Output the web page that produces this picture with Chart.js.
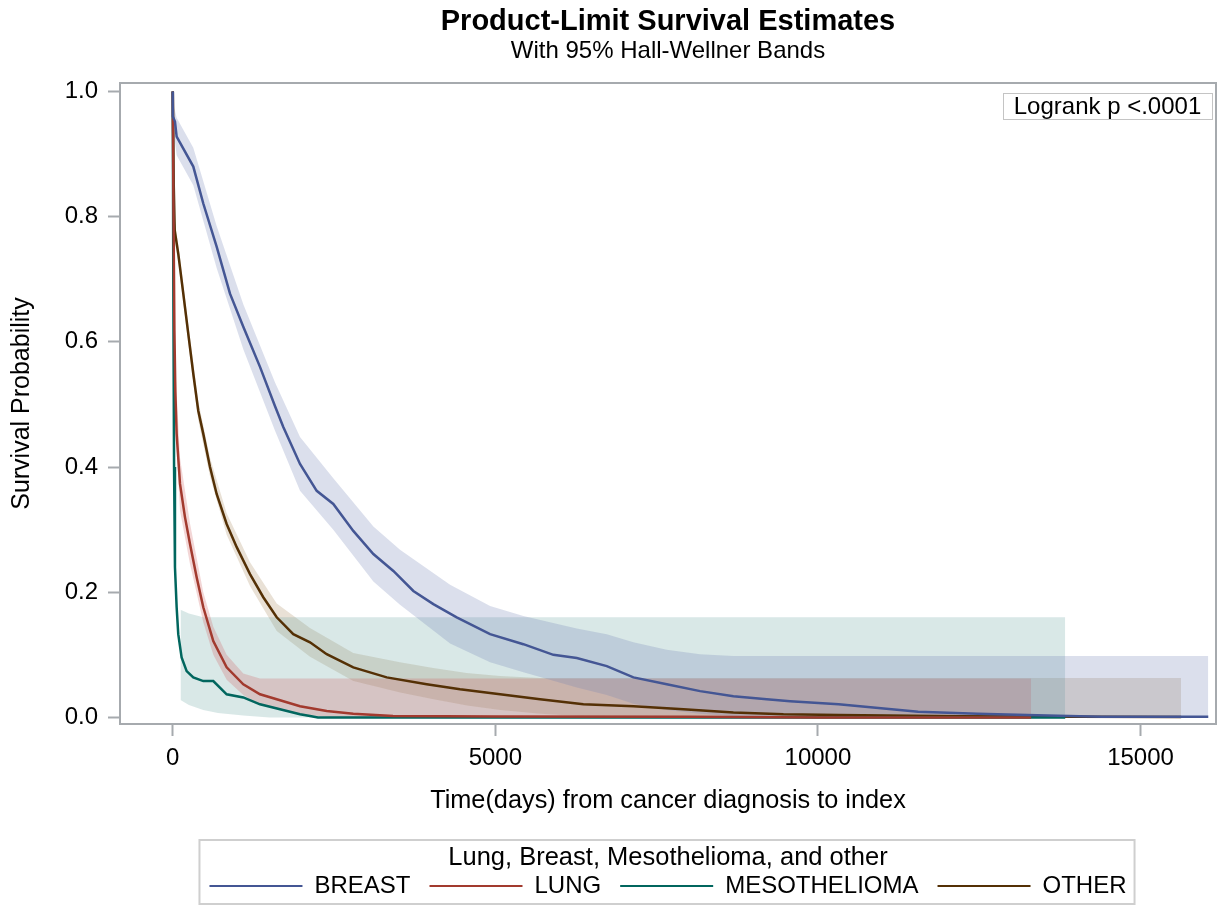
<!DOCTYPE html>
<html>
<head>
<meta charset="utf-8">
<script src="https://cdn.jsdelivr.net/npm/chart.js@4.4.1/dist/chart.umd.min.js"></script>
<style>
html,body{margin:0;padding:0;background:#fff;}
#wrap{width:1225px;height:913px;}
</style>
</head>
<body>
<div id="wrap"><canvas id="c" width="1225" height="913"></canvas></div>
<script>
// ---------- text ----------
const titleText = 'Product-Limit Survival Estimates';
const subtitleText = 'With 95% Hall-Wellner Bands';
const xTitle = 'Time(days) from cancer diagnosis to index';
const yTitle = 'Survival Probability';
const legendTitle = 'Lung, Breast, Mesothelioma, and other';
const logrankText = 'Logrank p <.0001';
const seriesNames = ['BREAST', 'LUNG', 'MESOTHELIOMA', 'OTHER'];

// ---------- tick labels ----------
const xTicks = [0, 5000, 10000, 15000];
const yTicks = [0, 0.2, 0.4, 0.6, 0.8, 1.0];

// ---------- BREAST ----------
const breastT = [0, 1, 34, 60, 318, 473, 680, 887, 1093, 1352, 1585, 1713, 1972, 2231, 2488, 2798, 3109, 3419, 3729, 4039, 4401, 4918, 5434, 5899, 6262, 6727, 7140, 7657, 8174, 8690, 9207, 9569, 10321, 11554, 12477, 13400, 14388, 16050];
const breastS = [1.0, 0.96, 0.952, 0.928, 0.880, 0.821, 0.752, 0.677, 0.624, 0.560, 0.497, 0.464, 0.405, 0.362, 0.341, 0.298, 0.261, 0.234, 0.202, 0.181, 0.160, 0.133, 0.117, 0.100, 0.095, 0.082, 0.064, 0.053, 0.042, 0.034, 0.029, 0.026, 0.021, 0.009, 0.006, 0.0035, 0.001, 0.001];
const breastBandT = [20, 60, 318, 680, 1093, 1585, 1972, 2488, 3109, 3522, 4298, 4918, 5434, 6262, 6727, 7140, 7657, 8174, 8690, 9207, 10321, 16050];
const breastUpper = [0.975, 0.958, 0.91, 0.785, 0.66, 0.535, 0.448, 0.382, 0.305, 0.268, 0.212, 0.178, 0.162, 0.142, 0.133, 0.12, 0.108, 0.101, 0.098, 0.098, 0.098, 0.098];
const breastLower = [0.93, 0.898, 0.85, 0.718, 0.588, 0.458, 0.362, 0.300, 0.217, 0.180, 0.118, 0.088, 0.072, 0.048, 0.036, 0.022, 0.012, 0.006, 0.002, 0, 0, 0];

// ---------- LUNG ----------
const lungT = [0, 10, 25, 40, 60, 112, 189, 267, 370, 473, 628, 835, 1093, 1352, 1611, 1972, 2386, 2798, 3414, 5000, 8000, 10000, 13305];
const lungS = [1.0, 0.82, 0.62, 0.52, 0.453, 0.373, 0.320, 0.277, 0.224, 0.176, 0.122, 0.080, 0.053, 0.037, 0.029, 0.018, 0.0104, 0.006, 0.0024, 0.0015, 0.001, 0, 0];
const lungBandT = [40, 112, 267, 473, 628, 835, 1093, 1352, 1972, 2500, 13305];
const lungUpper = [0.56, 0.415, 0.31, 0.20, 0.145, 0.10, 0.07, 0.062, 0.062, 0.062, 0.062];
const lungLower = [0.47, 0.33, 0.245, 0.152, 0.10, 0.06, 0.036, 0.02, 0.005, 0, 0];

// ---------- MESOTHELIOMA ----------
const mesoT = [0, 8, 20, 34, 60, 85, 137, 215, 318, 473, 628, 835, 1093, 1352, 1662, 1972, 2127, 2250, 13833];
const mesoS = [1.0, 0.7, 0.4, 0.24, 0.176, 0.133, 0.096, 0.074, 0.064, 0.058, 0.058, 0.037, 0.032, 0.021, 0.013, 0.005, 0.0024, 0, 0];
const mesoBandT = [120, 250, 473, 700, 1093, 1500, 13833];
const mesoUpper = [0.172, 0.166, 0.16, 0.16, 0.16, 0.16, 0.16];
const mesoLower = [0.028, 0.02, 0.012, 0.007, 0.003, 0, 0];

// ---------- OTHER ----------
const otherT = [0, 15, 30, 85, 163, 240, 318, 395, 473, 577, 680, 835, 991, 1197, 1403, 1611, 1868, 2127, 2386, 2798, 3316, 3936, 4453, 5073, 5693, 6364, 7140, 7915, 8690, 9465, 10321, 12169, 14000, 15630];
const otherS = [1.0, 0.85, 0.778, 0.741, 0.677, 0.613, 0.549, 0.490, 0.453, 0.400, 0.357, 0.309, 0.272, 0.229, 0.192, 0.160, 0.133, 0.120, 0.101, 0.080, 0.064, 0.053, 0.045, 0.037, 0.029, 0.021, 0.018, 0.013, 0.0077, 0.005, 0.004, 0.002, 0.001, 0.0005];
const otherBandT = [30, 85, 240, 395, 577, 835, 1197, 1611, 2127, 2798, 3522, 4039, 4556, 5073, 5693, 6364, 7140, 8000, 15630];
const otherUpper = [0.795, 0.755, 0.628, 0.505, 0.415, 0.326, 0.248, 0.182, 0.143, 0.103, 0.088, 0.079, 0.071, 0.066, 0.063, 0.063, 0.063, 0.063, 0.063];
const otherLower = [0.76, 0.727, 0.598, 0.475, 0.385, 0.292, 0.21, 0.138, 0.097, 0.058, 0.040, 0.029, 0.019, 0.012, 0.006, 0.002, 0, 0, 0];

// ---------- styles ----------
const FONT = '"Liberation Sans", Arial, Helvetica, sans-serif';
const lineColors = ['#445694', '#A23A2E', '#01665E', '#543005'];
const bandColors = ['rgba(111,126,179,0.25)', 'rgba(208,91,91,0.25)', 'rgba(102,165,160,0.25)', 'rgba(169,134,91,0.25)'];
const axisGray = '#a6aaae';

const zip = (t, v) => t.map((x, i) => ({x: x, y: v[i]}));

const lineSeries = [[breastT, breastS], [lungT, lungS], [mesoT, mesoS], [otherT, otherS]];
const bandSeries = [
  [breastBandT, breastUpper, breastLower],
  [lungBandT, lungUpper, lungLower],
  [mesoBandT, mesoUpper, mesoLower],
  [otherBandT, otherUpper, otherLower]
];

const datasets = [];
lineSeries.forEach((s, i) => {
  datasets.push({
    label: seriesNames[i], data: zip(s[0], s[1]),
    borderColor: lineColors[i], backgroundColor: lineColors[i],
    borderWidth: 2.5, pointRadius: 0, fill: false, tension: 0, order: 0
  });
});
bandSeries.forEach((b, i) => {
  datasets.push({
    label: seriesNames[i] + ' upper', data: zip(b[0], b[1]),
    borderWidth: 0, borderColor: 'rgba(0,0,0,0)', backgroundColor: bandColors[i],
    pointRadius: 0, fill: '+1', tension: 0, order: 1
  });
  datasets.push({
    label: seriesNames[i] + ' lower', data: zip(b[0], b[2]),
    borderWidth: 0, borderColor: 'rgba(0,0,0,0)', backgroundColor: bandColors[i],
    pointRadius: 0, fill: false, tension: 0, order: 1
  });
});

const decor = {
  id: 'decor',
  afterDraw(chart) {
    const ctx = chart.ctx, a = chart.chartArea;
    ctx.save();
    // plot frame
    ctx.strokeStyle = axisGray; ctx.lineWidth = 2;
    ctx.strokeRect(a.left, a.top, a.right - a.left, a.bottom - a.top);
    // logrank inset
    const bw = 209, bh = 26;
    const bx = a.right - 213, by = a.top + 10;
    ctx.fillStyle = '#fff'; ctx.fillRect(bx, by, bw, bh);
    ctx.strokeStyle = '#c4c4c4'; ctx.lineWidth = 1;
    ctx.strokeRect(bx + 0.5, by + 0.5, bw, bh);
    ctx.fillStyle = '#000'; ctx.font = '24px ' + FONT;
    ctx.textAlign = 'center'; ctx.textBaseline = 'middle';
    ctx.fillText(logrankText, bx + bw / 2, by + bh / 2 + 1);
    // legend frame
    const lg = chart.legend;
    const hb = lg && lg.legendHitBoxes;
    if (hb && hb.length) {
      const last = hb[hb.length - 1];
      const l = hb[0].left - 10, r = last.left + last.width + 8;
      ctx.strokeStyle = '#cfcfcf'; ctx.lineWidth = 2;
      ctx.strokeRect(l, lg.top + 1, r - l, 64);
    }
    ctx.restore();
  }
};

new Chart(document.getElementById('c'), {
  type: 'line',
  data: {datasets: datasets},
  plugins: [decor],
  options: {
    responsive: false,
    animation: false,
    devicePixelRatio: 1,
    layout: {padding: {left: 0, right: 9, top: 0, bottom: 5}},
    plugins: {
      title: {
        display: true, text: titleText, fullSize: false, color: '#000',
        font: {family: FONT, size: 29, weight: 'bold', lineHeight: 1.2},
        padding: {top: 4.6, bottom: -3}
      },
      subtitle: {
        display: true, text: subtitleText, fullSize: false, color: '#000',
        font: {family: FONT, size: 24, lineHeight: 1.2},
        padding: {top: 0.5, bottom: 17.3}
      },
      legend: {
        position: 'bottom', fullSize: false, align: 'center',
        title: {
          display: true, text: legendTitle, color: '#000',
          font: {family: FONT, size: 25.5, lineHeight: 0.392},
          padding: {top: 6, bottom: 0}
        },
        labels: {
          boxWidth: 93, boxHeight: 2, padding: 19, color: '#000',
          font: {family: FONT, size: 24},
          generateLabels: () => seriesNames.map((n, i) => ({
            text: n, fillStyle: lineColors[i], strokeStyle: lineColors[i],
            lineWidth: 0, hidden: false, datasetIndex: i, fontColor: '#000'
          }))
        }
      },
      tooltip: {enabled: false}
    },
    scales: {
      x: {
        type: 'linear', min: -818, max: 16170,
        afterBuildTicks: s => { s.ticks = xTicks.map(v => ({value: v})); },
        afterFit: s => { s.height = 115; },
        ticks: {padding: 8, color: '#000', font: {family: FONT, size: 24}, callback: v => String(v)},
        grid: {drawOnChartArea: false, drawTicks: true, tickLength: 12, tickWidth: 2, tickColor: axisGray},
        border: {display: false},
        title: {display: true, text: xTitle, color: '#000', font: {family: FONT, size: 25.3}, padding: {top: 0, bottom: 23}}
      },
      y: {
        type: 'linear', min: -0.0105, max: 1.0135,
        afterBuildTicks: s => { s.ticks = yTicks.map(v => ({value: v})); },
        afterFit: s => { s.width = 120; },
        ticks: {padding: 10, color: '#000', font: {family: FONT, size: 24}, callback: v => Number(v).toFixed(1)},
        grid: {drawOnChartArea: false, drawTicks: true, tickLength: 12, tickWidth: 2, tickColor: axisGray},
        border: {display: false},
        title: {display: true, text: yTitle, color: '#000', font: {family: FONT, size: 25}, padding: {top: 7.5, bottom: 0}}
      }
    }
  }
});
</script>
</body>
</html>
